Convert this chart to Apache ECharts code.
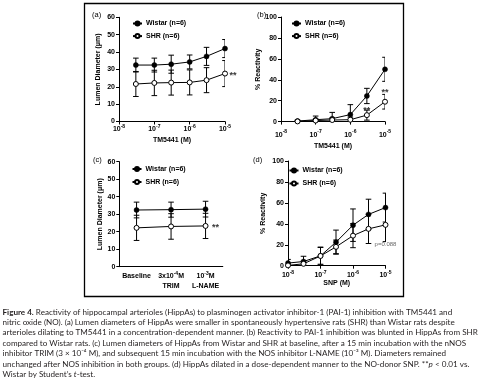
<!DOCTYPE html>
<html><head><meta charset="utf-8">
<script src="https://cdn.jsdelivr.net/npm/echarts@6/dist/echarts.min.js"></script>
<style>html,body{margin:0;padding:0;background:#fff}#c{width:489px;height:386px}</style>
</head><body><div id="c"></div>
<script>
// ---------------- data ----------------
const seriesNames = ['Wistar (n=6)', 'SHR (n=6)'];

// (a) lumen diameter vs TM5441
const concA = [3e-8, 1e-7, 3e-7, 1e-6, 3e-6, 1e-5];
const wistarA = [32.5, 32.5, 33.0, 34.3, 37.5, 42.0];
const wistarAErr = [4.0, 4.0, 5.2, 4.0, 5.2, 5.2];
const shrA = [21.6, 22.2, 22.4, 22.5, 23.8, 27.6];
const shrAErr = [7.2, 7.3, 7.2, 7.2, 7.2, 7.5];

// (b) % reactivity vs TM5441
const concB = [3e-8, 1e-7, 3e-7, 1e-6, 3e-6, 1e-5];
const wistarB = [0.5, 1.8, 2.8, 6.7, 24.5, 50.0];
const wistarBErr = [1.0, 3.5, 6.0, 9.5, 7.3, 11.5];
const shrB = [0.2, 1.0, 1.5, 1.8, 6.2, 19.0];
const shrBErr = [0.8, 1.5, 2.0, 2.5, 4.8, 7.0];
const sigB = [[3e-6, 12.5], [1e-5, 29.5]];

// (c) lumen diameter, baseline / TRIM / L-NAME
const catsC = ['Baseline', 'TRIM', 'L-NAME'];
const catLabelsC = ['{n|Baseline}', '{n|3x10}{s|-4}{n|M}\n{n|TRIM}', '{n|10}{s|-3}{n|M}\n{n|L-NAME}'];
const wistarC = [32.4, 32.6, 32.9];
const wistarCErr = [4.5, 4.3, 4.5];
const shrC = [22.2, 23.0, 23.3];
const shrCErr = [7.2, 7.3, 7.2];

// (d) % reactivity vs SNP
const concD = [1e-8, 3e-8, 1e-7, 3e-7, 1e-6, 3e-6, 1e-5];
const wistarD = [2.5, 4.0, 9.4, 22.5, 38.7, 49.0, 55.5];
const wistarDErr = [3.5, 5.0, 8.0, 11.5, 15.5, 14.5, 13.8];
const shrD = [0.3, 1.8, 9.3, 18.0, 28.7, 35.2, 39.0];
const shrDErr = [1.5, 2.5, 8.5, 6.5, 11.5, 14.0, 16.0];
const pNoteD = [[1e-5, 20.5]];

const captionLines = [
  ['{b|Figure 4.} Reactivity of hippocampal arterioles (HippAs) to plasminogen activator inhibitor-1 (PAI-1) inhibition with TM5441 and'],
  ['nitric oxide (NO). (a) Lumen diameters of HippAs were smaller in spontaneously hypertensive rats (SHR) than Wistar rats despite'],
  ['arterioles dilating to TM5441 in a concentration-dependent manner. (b) Reactivity to PAI-1 inhibition was blunted in HippAs from SHR'],
  ['compared to Wistar rats. (c) Lumen diameters of HippAs from Wistar and SHR at baseline, after a 15 min incubation with the nNOS'],
  ['inhibitor TRIM (3 \u00d7 10\u207b\u2074 M), and subsequent 15 min incubation with the NOS inhibitor L-NAME (10\u207b\u00b3 M). Diameters remained'],
  ['unchanged after NOS inhibition in both groups. (d) HippAs dilated in a dose-dependent manner to the NO-donor SNP. **{i|p} < 0.01 vs.'],
  ['Wistar by Student\u2019s {i|t}-test.']
];

// ---------------- styling helpers ----------------
const F = 'Liberation Sans';
const CF = 'Lato';
const CS = 8.1;
const txt = {fontFamily: F, fontWeight: 'bold', fontSize: 7, color: '#000'};
const supRich = {
  b: {fontFamily: F, fontWeight: 'bold', fontSize: 7, color: '#000', lineHeight: 10},
  s: {fontFamily: F, fontWeight: 'bold', fontSize: 5, color: '#000', verticalAlign: 'top', lineHeight: 5}
};
function logFmt(v) {
  const e = Math.round(Math.log10(v));
  return '{b|10}{s|' + e + '}';
}
const axLine = {show: true, lineStyle: {color: '#000', width: 1}};
const axTick = {show: true, length: 3, lineStyle: {color: '#000', width: 1}};

function logX(gi, name, margin, gap) {
  return {
    type: 'log', logBase: 10, gridIndex: gi, min: 1e-8, max: 1e-5, splitNumber: 3,
    axisLine: axLine, axisTick: axTick, splitLine: {show: false},
    axisLabel: {formatter: logFmt, rich: supRich, margin: margin},
    name: name, nameLocation: 'middle', nameGap: gap, nameTextStyle: txt
  };
}
function valY(gi, max, interval, name, gap) {
  return {
    type: 'value', gridIndex: gi, min: 0, max: max, interval: interval,
    axisLine: axLine, axisTick: axTick, splitLine: {show: false},
    axisLabel: Object.assign({margin: 4}, txt),
    name: name, nameLocation: 'middle', nameGap: gap, nameTextStyle: txt
  };
}

function lineSer(name, xs, ys, gi, open) {
  return {
    type: 'line', name: name, xAxisIndex: gi, yAxisIndex: gi,
    data: xs ? xs.map((x, i) => [x, ys[i]]) : ys.slice(),
    symbol: 'circle', symbolSize: 5, z: 5,
    lineStyle: {color: '#000', width: 1},
    itemStyle: open ? {color: '#fff', borderColor: '#000', borderWidth: 1} : {color: '#000', borderColor: '#000', borderWidth: 0.5},
    emphasis: {disabled: true}, animation: false
  };
}
function errSer(xs, ys, es, gi) {
  return {
    type: 'custom', xAxisIndex: gi, yAxisIndex: gi, z: 3, clip: true, silent: true, animation: false,
    data: ys.map((y, i) => [xs ? xs[i] : i, y, es[i]]),
    encode: {x: 0, y: 1},
    renderItem: function (params, api) {
      const x = api.value(0), y = api.value(1), e = api.value(2);
      const t = api.coord([x, y + e]);
      const b = api.coord([x, Math.max(0, y - e)]);
      const hw = 2.8;
      const st = {stroke: '#000', lineWidth: 1};
      const ch = [
        {type: 'line', shape: {x1: t[0], y1: t[1], x2: b[0], y2: b[1]}, style: st},
        {type: 'line', shape: {x1: t[0] - hw, y1: t[1], x2: t[0] + hw, y2: t[1]}, style: st}
      ];
      if (y - e > 0) ch.push({type: 'line', shape: {x1: b[0] - hw, y1: b[1], x2: b[0] + hw, y2: b[1]}, style: st});
      return {type: 'group', children: ch};
    }
  };
}
function noteSer(points, gi, text, lab) {
  return {
    type: 'scatter', xAxisIndex: gi, yAxisIndex: gi, symbolSize: 0, z: 6, silent: true, animation: false,
    data: points,
    label: Object.assign({show: true, formatter: text, position: 'inside', fontFamily: F, fontWeight: 'bold', fontSize: 9, color: '#000'}, lab)
  };
}
function legendAt(left, top, gap) {
  return {
    data: seriesNames, orient: 'vertical', left: left, top: top, padding: 0,
    itemWidth: 9, itemHeight: 5, itemGap: gap, selectedMode: false,
    textStyle: Object.assign({}, txt, {padding: [0, 0, 0, -1]})
  };
}

const option = {
  backgroundColor: '#fff',
  animation: false,
  grid: [
    {left: 119, top: 17.3, width: 106, height: 104.2},
    {left: 281, top: 17, width: 104, height: 104.6},
    {left: 119.3, top: 161.7, width: 103.5, height: 105},
    {left: 288, top: 161, width: 97.5, height: 104.7}
  ],
  xAxis: [
    logX(0, 'TM5441 (M)', 3, 15),
    logX(1, 'TM5441 (M)', 8, 21),
    {
      type: 'category', gridIndex: 2, data: catsC, boundaryGap: true,
      axisLine: axLine, axisTick: {show: false}, splitLine: {show: false},
      axisLabel: {margin: 4, interval: 0, lineHeight: 10, formatter: (v, i) => catLabelsC[i],
        rich: {n: {fontFamily: F, fontWeight: 'bold', fontSize: 7, color: '#000', lineHeight: 10},
               s: {fontFamily: F, fontWeight: 'bold', fontSize: 5, color: '#000', verticalAlign: 'top', lineHeight: 6}}}
    },
    logX(3, 'SNP (M)', 4, 14)
  ],
  yAxis: [
    valY(0, 60, 10, 'Lumen Diameter (\u03bcm)', 17),
    valY(1, 100, 20, '% Reactivity', 14),
    valY(2, 60, 10, 'Lumen Diameter (\u03bcm)', 15),
    valY(3, 100, 20, '% Reactivity', 21)
  ],
  legend: [
    legendAt(132, 20, 5.6),
    legendAt(291, 20, 5.6),
    legendAt(131.5, 165.5, 6),
    legendAt(288.5, 167, 6)
  ],
  series: [
    errSer(concA, wistarA, wistarAErr, 0),
    errSer(concA, shrA, shrAErr, 0),
    lineSer(seriesNames[0], concA, wistarA, 0, false),
    lineSer(seriesNames[1], concA, shrA, 0, true),
    noteSer([[concA[5], shrA[5]]], 0, '**', {offset: [8, 2]}),

    errSer(concB, wistarB, wistarBErr, 1),
    errSer(concB, shrB, shrBErr, 1),
    lineSer(seriesNames[0], concB, wistarB, 1, false),
    lineSer(seriesNames[1], concB, shrB, 1, true),
    noteSer(sigB, 1, '**', {offset: [0, 2]}),

    errSer(null, wistarC, wistarCErr, 2),
    errSer(null, shrC, shrCErr, 2),
    lineSer(seriesNames[0], null, wistarC, 2, false),
    lineSer(seriesNames[1], null, shrC, 2, true),
    noteSer([[2, shrC[2]]], 2, '**', {offset: [10, 2]}),

    errSer(concD, wistarD, wistarDErr, 3),
    errSer(concD, shrD, shrDErr, 3),
    lineSer(seriesNames[0], concD, wistarD, 3, false),
    lineSer(seriesNames[1], concD, shrD, 3, true),
    noteSer(pNoteD, 3, 'p=0.088', {fontWeight: 'normal', fontSize: 6, color: '#444', offset: [0, 0]})
  ],
  graphic: [
    {type: 'rect', shape: {x: 84.5, y: 3.5, width: 319, height: 293}, style: {fill: 'none', stroke: '#000', lineWidth: 1.3}, z: 0, silent: true},
    {type: 'text', x: 92, y: 11, style: {text: '(a)', fontFamily: F, fontSize: 7.5, fill: '#000'}},
    {type: 'text', x: 257, y: 11, style: {text: '(b)', fontFamily: F, fontSize: 7.5, fill: '#000'}},
    {type: 'text', x: 93, y: 156, style: {text: '(c)', fontFamily: F, fontSize: 7.5, fill: '#000'}},
    {type: 'text', x: 253, y: 156, style: {text: '(d)', fontFamily: F, fontSize: 7.5, fill: '#000'}}
  ].concat(captionLines.map((l, i) => ({
    type: 'text', x: 2.5, y: 312 + i * 10.4, silent: true,
    style: {
      text: l[0], fontFamily: CF, fontSize: CS, fill: '#231f20', verticalAlign: 'middle',
      rich: {
        b: {fontFamily: CF, fontSize: CS, fontWeight: 'bold', fill: '#231f20'},
        i: {fontFamily: CF, fontSize: CS, fontStyle: 'italic', fill: '#231f20'}
      }
    }
  })))
};

const chart = echarts.init(document.getElementById('c'), null, {renderer: 'canvas'});
chart.setOption(option);
</script>
</body></html>
